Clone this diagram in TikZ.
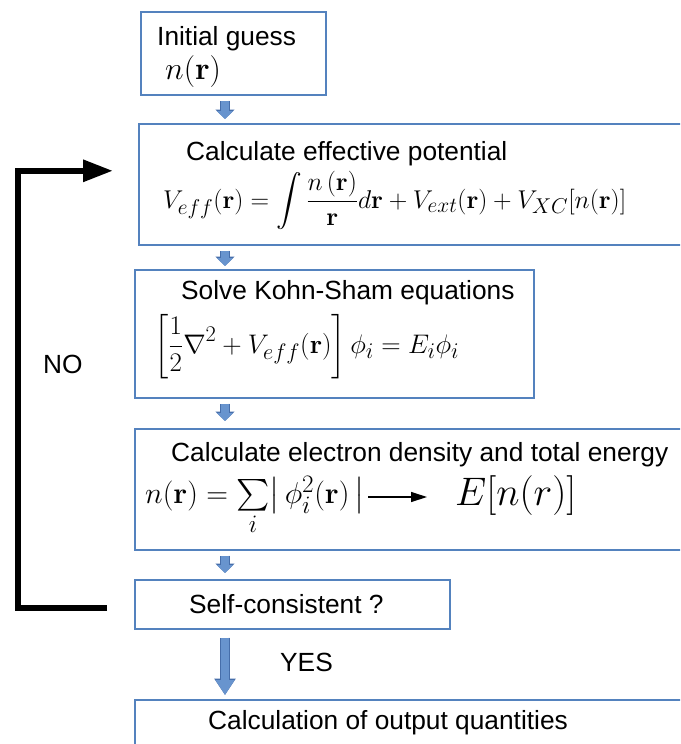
\documentclass[tikz,border=0pt]{standalone}
\usepackage{amsmath}
\usepackage{graphicx}
\usepackage[no-math]{fontspec}
\setmainfont{Liberation Sans}
\usetikzlibrary{arrows.meta}
\definecolor{boxblue}{RGB}{84,130,190}
\definecolor{arrfill}{RGB}{104,148,206}
\definecolor{arrline}{RGB}{70,110,170}
\newcommand{\fml}[2]{\scalebox{#1}{#2}}
\begin{document}
\begin{tikzpicture}[x=1pt,y=-1pt,
  box/.style={draw=boxblue, line width=1.6pt, rectangle, anchor=north west, inner sep=0pt},
  txt/.style={font=\fontsize{26.3}{30}\selectfont, inner sep=0pt, anchor=base west, text=black},
  mth/.style={font=\fontsize{24.88}{30}\selectfont, inner sep=0pt, anchor=base west},
  flow/.style={line width=8.5pt, draw=arrfill, -{Triangle[width=16pt,length=8pt]},
    preaction={draw=arrline, line width=10pt, -{Triangle[width=18.5pt,length=9.5pt]}}},
  bigflow/.style={line width=8.5pt, draw=arrfill, -{Triangle[width=18pt,length=15pt]},
    preaction={draw=arrline, line width=10pt, -{Triangle[width=20.5pt,length=16.5pt]}}},
  fb/.style={line width=6pt, draw=black, -{Triangle[width=21pt,length=30pt]}},
  thin/.style={line width=1.3pt, draw=black, -{Triangle[width=10pt,length=16pt]}}]
\useasboundingbox (0,0) rectangle (680,744);
\clip (0,0) rectangle (680,744);
\fill[white] (0,0) rectangle (680,744);
% boxes
\node[box, minimum width=185pt, minimum height=83pt] (b1) at (140,11) {};
\node[box, minimum width=570pt, minimum height=121pt] (b2) at (138,123) {};
\node[box, minimum width=399pt, minimum height=128pt] (b3) at (134,269) {};
\node[box, minimum width=570pt, minimum height=121pt] (b4) at (134,428) {};
\node[box, minimum width=315pt, minimum height=49pt] (b5) at (134,579) {};
\node[box, minimum width=570pt, minimum height=80pt] (b6) at (134,699) {};
% texts
\node[txt] (t1) at (157,45) {Initial guess};
\node[mth] (m1) at (165,79) {\fml{1.28}{$n(\mathbf{r})$}};
\node[txt] (t2) at (186,160) {Calculate effective potential};
\node[mth] (m2) at (163,208) {\fml{1.034}{$\displaystyle V_{eff}(\mathbf{r})=\int\frac{n\left(\mathbf{r}\right)}{\mathbf{r}}d\mathbf{r}+V_{ext}(\mathbf{r})+V_{XC}[n(\mathbf{r})]$}};
\node[txt] (t3) at (181,299) {Solve Kohn-Sham equations};
\node[mth] (m3) at (154,353) {\fml{1.08}{$\displaystyle \left[\frac{1}{2}\nabla^2+V_{eff}(\mathbf{r})\right]\phi_i=E_i\phi_i$}};
\node[txt] (t4) at (171,461) {Calculate electron density and total energy};
\node[mth] (m4a) at (145,503) {\fml{1.21}{$n(\mathbf{r})=\mathop{\vcenter{\hbox{\scalebox{1.05}{$\sum$}}}}\limits_i\bigl|\,\phi_i^2(\mathbf{r})\,\bigr|$}};
\node[mth] (m4b) at (455,505) {\fml{1.6}{$E[n(r)]$}};
\node[txt] (t5) at (189,613) {Self-consistent ?};
\node[txt] (t6) at (208,729) {Calculation of output quantities};
\node[txt] (yes) at (280,671) {YES};
\node[txt] (no) at (43,373) {NO};
% flow arrows
\coordinate (ax) at (225,0);
\draw[flow, shorten <=5pt, shorten >=4pt] (b1.south -| ax) -- (b2.north -| ax);
\draw[flow, shorten <=5pt, shorten >=3pt] (b2.south -| ax) -- (b3.north -| ax);
\draw[flow, shorten <=5pt, shorten >=7pt] (b3.south -| ax) -- (b4.north -| ax);
\draw[flow, shorten <=5pt, shorten >=6pt] (b4.south -| ax) -- (b5.north -| ax);
\draw[bigflow, shorten <=8pt, shorten >=4pt] (b5.south -| ax) -- (b6.north -| ax);
% inner arrow
\coordinate (arrs) at (368,497);
\draw[thin, shorten >=28pt] (arrs) -- (m4b.west |- arrs);
% feedback loop
\coordinate (loopx) at (18,0);
\coordinate (noto) at ([xshift=-25pt, yshift=13.5pt]b2.west);
\draw[fb] ([xshift=-27pt, yshift=-3.5pt]b5.west) -| (loopx |- noto) -- (noto);
\end{tikzpicture}
\end{document}
